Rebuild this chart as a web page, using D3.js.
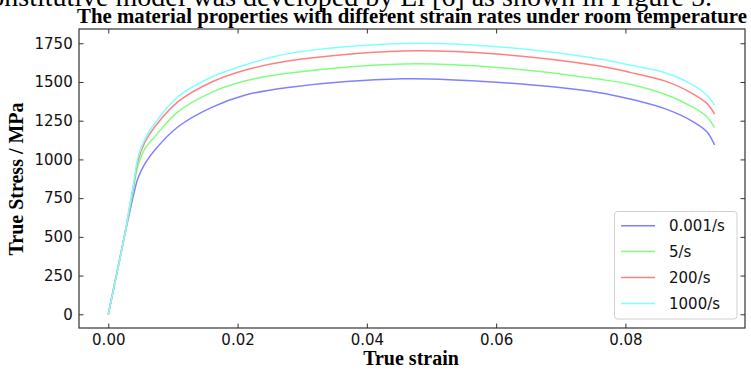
<!DOCTYPE html>
<html>
<head>
<meta charset="utf-8">
<script src="https://cdn.jsdelivr.net/npm/d3@7"></script>
<style>
  html, body { margin: 0; padding: 0; background: #fff; }
  svg { display: block; }
</style>
</head>
<body>
<svg id="chart" width="751" height="370"></svg>
<script>
// ---- data ----
const strain = [0, 0.0026, 0.0031, 0.0039, 0.0046, 0.0057, 0.0072, 0.0108, 0.016, 0.0211, 0.0278, 0.0456, 0.0601, 0.076, 0.0807, 0.0864, 0.0905, 0.0926, 0.0938];
const rateLabels = ["0.001/s", "5/s", "200/s", "1000/s"];
const stress_0001 = [0, 525, 620, 770, 880, 975, 1061, 1211, 1336, 1414, 1465, 1521, 1498, 1431, 1390, 1323, 1243, 1179, 1093];
const stress_5    = [0, 525, 635, 810, 960, 1072, 1147, 1308, 1433, 1506, 1556, 1616, 1594, 1517, 1485, 1416, 1336, 1276, 1205];
const stress_200  = [0, 525, 645, 830, 995, 1114, 1211, 1373, 1500, 1576, 1636, 1700, 1680, 1603, 1562, 1502, 1422, 1362, 1293];
const stress_1000 = [0, 525, 650, 840, 1015, 1136, 1233, 1405, 1532, 1609, 1683, 1749, 1728, 1648, 1609, 1556, 1480, 1416, 1351];
const xTicks = [0, 0.02, 0.04, 0.06, 0.08];
const yTicks = [0, 250, 500, 750, 1000, 1250, 1500, 1750];
const titleText = "The material properties with different strain rates under room temperature";
const xLabel = "True strain";
const yLabel = "True Stress / MPa";
const topText = "constitutive model was developed by Li [6] as shown in Figure 5.";

const seriesValues = [stress_0001, stress_5, stress_200, stress_1000];
const colors = ["#8080ff", "#80ff80", "#ff8080", "#80ffff"];

// ---- layout ----
const L = 79, R = 745, T = 29, B = 328;
const svg = d3.select("#chart");

const x = d3.scaleLinear().domain([-0.00453, 0.0985]).range([L, R]);
const y = d3.scaleLinear().domain([-88.5, 1842]).range([B, T]);

// cut-off document text at the very top
svg.append("text")
  .attr("x", 712).attr("y", 6)
  .attr("text-anchor", "end")
  .style("font-family", "'Liberation Serif', 'Times New Roman', serif")
  .style("font-size", "28px")
  .attr("fill", "#000")
  .text(topText);

// lines
const line = d3.line()
  .x((d, i) => x(strain[i]))
  .y(d => y(d))
  .curve(d3.curveCatmullRom.alpha(0.5));

const g = svg.append("g");
seriesValues.forEach((vals, k) => {
  g.append("path")
    .datum(vals)
    .attr("fill", "none")
    .attr("stroke", colors[k])
    .attr("stroke-width", 1.5)
    .attr("d", line);
});

// axes with inward ticks
const tickFont = "'DejaVu Sans', sans-serif";
const axB = d3.axisBottom(x).tickValues(xTicks).tickFormat(d3.format(".2f")).tickSizeInner(-4.5).tickSizeOuter(0).tickPadding(6);
const axL = d3.axisLeft(y).tickValues(yTicks).tickFormat(d3.format("d")).tickSizeInner(-4.5).tickSizeOuter(0).tickPadding(6.3);
const axT = d3.axisTop(x).tickValues(xTicks).tickFormat("").tickSizeInner(-4.5).tickSizeOuter(0);
const axR = d3.axisRight(y).tickValues(yTicks).tickFormat("").tickSizeInner(-4.5).tickSizeOuter(0);

function styleAxis(sel) {
  sel.select(".domain").remove();
  sel.selectAll(".tick line").attr("stroke", "#333").attr("stroke-width", 1);
  sel.selectAll(".tick text").style("font-family", tickFont).style("font-size", "15px").attr("fill", "#111");
}
svg.append("g").attr("transform", `translate(0,${B})`).call(axB).call(styleAxis);
svg.append("g").attr("transform", `translate(${L},0)`).call(axL).call(styleAxis);
svg.append("g").attr("transform", `translate(0,${T})`).call(axT).call(styleAxis);
svg.append("g").attr("transform", `translate(${R},0)`).call(axR).call(styleAxis);

// frame
svg.append("rect")
  .attr("x", L).attr("y", T).attr("width", R - L).attr("height", B - T)
  .attr("fill", "none").attr("stroke", "#333").attr("stroke-width", 1.2);

// title & labels
const serif = "'Liberation Serif', 'Times New Roman', serif";
svg.append("text")
  .attr("x", 412).attr("y", 23)
  .attr("text-anchor", "middle")
  .style("font-family", serif).style("font-weight", "bold").style("font-size", "20.8px")
  .text(titleText);
svg.append("text")
  .attr("x", 411).attr("y", 365)
  .attr("text-anchor", "middle")
  .style("font-family", serif).style("font-weight", "bold").style("font-size", "20px")
  .text(xLabel);
svg.append("text")
  .attr("transform", `translate(23,179) rotate(-90)`)
  .attr("text-anchor", "middle")
  .style("font-family", serif).style("font-weight", "bold").style("font-size", "20px")
  .text(yLabel);

// legend
const lg = svg.append("g");
lg.append("rect")
  .attr("x", 614.5).attr("y", 211.5).attr("width", 122.5).attr("height", 107.5)
  .attr("rx", 3).attr("ry", 3)
  .attr("fill", "#fff").attr("fill-opacity", 0.8)
  .attr("stroke", "#d0d0d0").attr("stroke-width", 1);
rateLabels.forEach((lab, k) => {
  const yy = 225.7 + k * 25.9;
  lg.append("line")
    .attr("x1", 621).attr("x2", 655).attr("y1", yy).attr("y2", yy)
    .attr("stroke", colors[k]).attr("stroke-width", 1.5);
  lg.append("text")
    .attr("x", 669).attr("y", yy).attr("dy", "0.36em")
    .style("font-family", tickFont).style("font-size", "15px").attr("fill", "#111")
    .text(lab);
});
</script>
</body>
</html>
